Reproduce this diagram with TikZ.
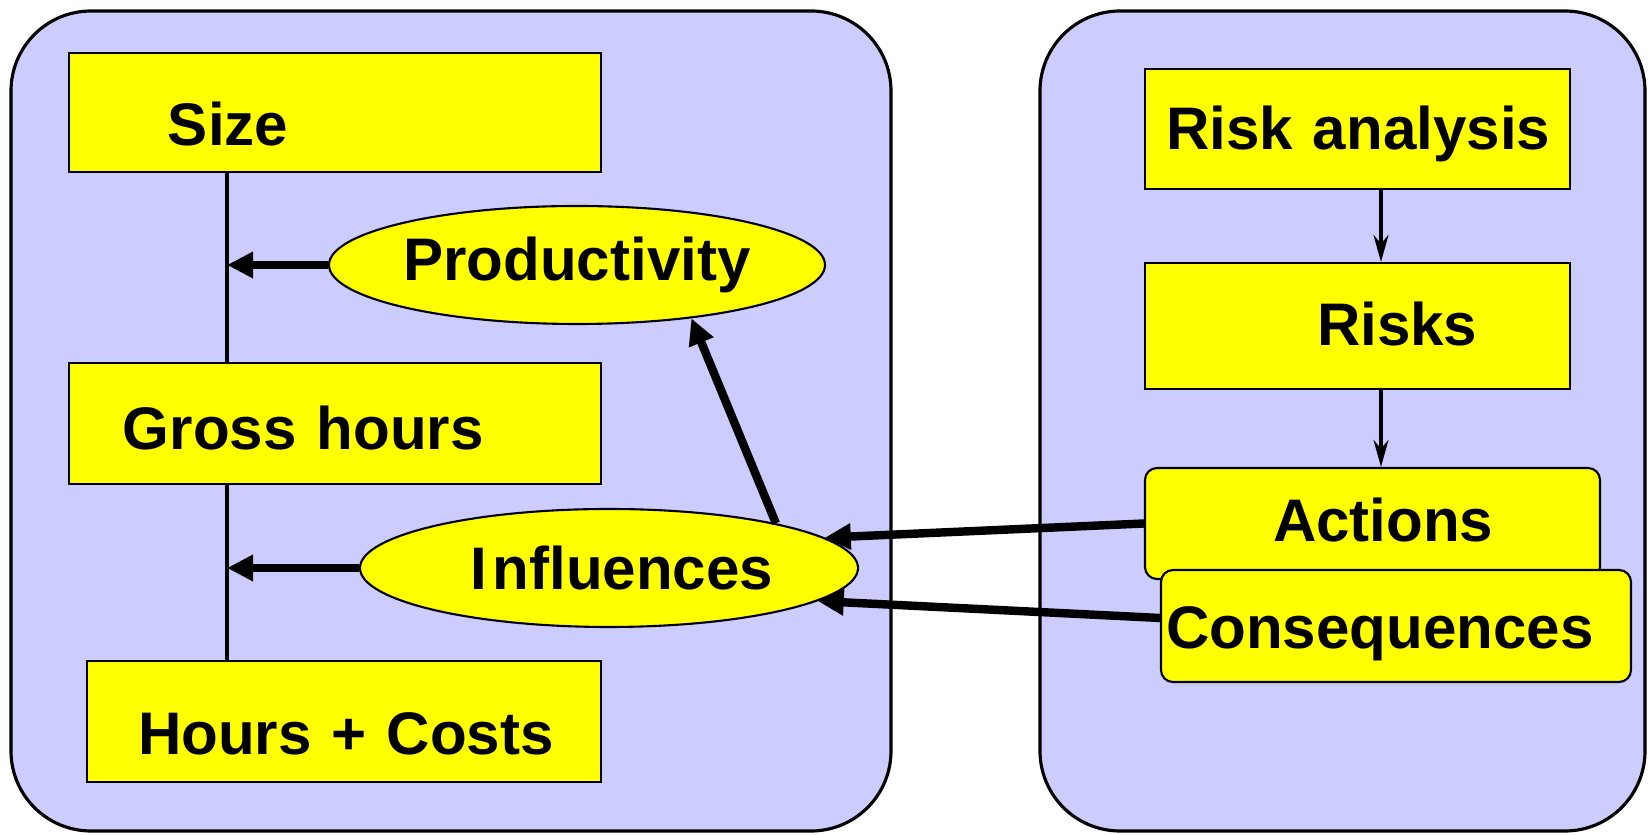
\documentclass[tikz,border=0pt]{standalone}
\usepackage{fontspec}
\setmainfont{Liberation Sans}
\usetikzlibrary{arrows.meta,shapes.geometric}
\definecolor{panelblue}{RGB}{204,204,255}
\definecolor{boxyellow}{RGB}{255,255,0}
\begin{document}
\begin{tikzpicture}[font = \fontsize{17.1}{20}\selectfont\bfseries,
		panel/.style = { draw, line width = 0.9pt, fill = panelblue, rounded corners = 0.8cm },
		box/.style = { draw, line width = 0.6pt, fill = boxyellow, inner xsep = 0pt, inner ysep = 0pt, align = left },
		oval/.style = { draw, ellipse, line width = 0.6pt, fill = boxyellow, inner sep = 0pt },
		heavy/.style = { -{Triangle[length = 0.26cm, width = 0.25cm]}, line width = 2.4pt },
		light/.style = { -{Stealth[length = 0.27cm, width = 0.15cm]}, line width = 1.1pt }]
				\useasboundingbox (0,0) rectangle (16.5,-8.35);
				% the two panels
				\node[panel, minimum width = 8.80cm, minimum height = 8.20cm] (estimate) at (4.51,-4.21) {};
				\node[panel, minimum width = 6.05cm, minimum height = 8.20cm] (riskside) at (13.425,-4.21) {};
				% left column
				\node[box, text width = 5.32cm, text height = 0.93cm, text depth = 0.26cm] (size) at (3.35,-1.125) {\hspace*{0.99cm}Size};
				\node[box, text width = 5.32cm, text height = 0.87cm, text depth = 0.34cm] (gross) at (3.35,-4.235) {\hspace*{0.54cm}Gross hours};
				\node[box, text width = 5.14cm, text height = 0.94cm, text depth = 0.27cm] (hours) at (3.44,-7.215) {\hspace*{0.51cm}Hours + Costs};
				\node[oval, minimum width = 4.96cm, minimum height = 1.18cm] (prod) at (5.77,-2.65) {Productivity};
				\node[oval, minimum width = 4.98cm, minimum height = 1.18cm] (infl) at (6.09,-5.68) {\hspace*{0.26cm}I\kern0.05cm nfluences};
				% right column
				\node[box, text width = 4.25cm, text height = 0.81cm, text depth = 0.39cm] (risk) at (13.575,-1.29) {\hspace*{0.21cm}Risk analysis};
				\node[box, text width = 4.25cm, text height = 0.83cm, text depth = 0.43cm] (risks) at (13.575,-3.26) {\hspace*{1.72cm}Risks};
				\node[box, rounded corners = 0.12cm, text width = 4.55cm, text height = 0.74cm, text depth = 0.37cm] (actions) at (13.725,-5.235) {\hspace*{1.28cm}Actions};
				\node[box, rounded corners = 0.12cm, text width = 4.70cm, text height = 0.79cm, text depth = 0.33cm] (cons) at (13.96,-6.26) {\hspace*{0.05cm}Consequences};
				% connectors
				\coordinate (axis) at (2.27,0);
				\coordinate (chain) at (13.81,0);
				\draw[line width = 1.1pt] (size.south -| axis) -- (gross.north -| axis);
				\draw[line width = 1.1pt] (gross.south -| axis) -- (hours.north -| axis);
				\draw[heavy] (prod.west) -- (prod.west -| axis);
				\draw[heavy] (infl.west) -- (infl.west -| axis);
				\draw[heavy] (infl.15) -- (prod.-25);
				\draw[heavy] (actions.west) -- (infl.8);
				\draw[heavy] ([yshift = 0.08cm]cons.west) -- (infl.-9);
				\draw[light] (risk.south -| chain) -- (risks.north -| chain);
				\draw[light] (risks.south -| chain) -- (actions.north -| chain);
			\end{tikzpicture}
\end{document}
